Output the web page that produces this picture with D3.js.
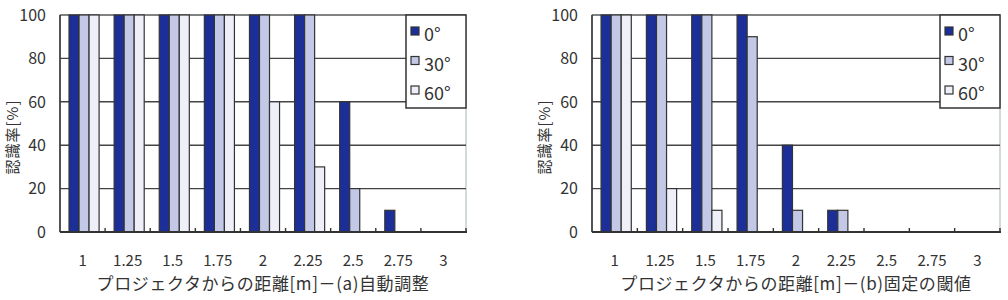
<!DOCTYPE html>
<html>
<head>
<meta charset="utf-8">
<script src="https://cdn.jsdelivr.net/npm/d3@7"></script>
<style>
  body { margin: 0; background: #fff; }
  svg text { font-family: "Noto Sans CJK JP", "Noto Sans", sans-serif; fill: #333; }
</style>
</head>
<body>
<div id="chart"></div>
<script>
const distances = ["1", "1.25", "1.5", "1.75", "2", "2.25", "2.5", "2.75", "3"];
const angles = ["0°", "30°", "60°"];
const yTicks = [0, 20, 40, 60, 80, 100];

// (a) 自動調整
const autoDeg0  = [100, 100, 100, 100, 100, 100, 60, 10, 0];
const autoDeg30 = [100, 100, 100, 100, 100, 100, 20, 0, 0];
const autoDeg60 = [100, 100, 100, 100, 60, 30, 0, 0, 0];

// (b) 固定の閾値
const fixedDeg0  = [100, 100, 100, 100, 40, 10, 0, 0, 0];
const fixedDeg30 = [100, 100, 100, 90, 10, 10, 0, 0, 0];
const fixedDeg60 = [100, 20, 10, 0, 0, 0, 0, 0, 0];

const colors = ["#1c2f98", "#c3c8e6", "#eeeff8"];

const width = 1008;
const height = 300;

const svg = d3.select("#chart")
  .append("svg")
  .attr("width", width)
  .attr("height", height);

function drawChart(left, right, series, title) {
  const top = 15, bottom = 232;

  const x = d3.scaleBand().domain(distances).range([left, right]);
  const x1 = d3.scaleBand().domain(angles).range([0, x.bandwidth()])
    .paddingOuter(0.75).align(0.6);
  const y = d3.scaleLinear().domain([0, 100]).range([bottom, top]);

  const g = svg.append("g");

  // frame (light)
  g.append("rect")
    .attr("x", left).attr("y", top)
    .attr("width", right - left).attr("height", bottom - top)
    .attr("fill", "#fff").attr("stroke", "#a8b4b4").attr("stroke-width", 1);

  // gridlines
  g.append("g")
    .selectAll("line")
    .data(yTicks.slice(1))
    .join("line")
    .attr("x1", left).attr("x2", right)
    .attr("y1", d => y(d)).attr("y2", d => y(d))
    .attr("stroke", d => d === 100 ? "#666" : "#444")
    .attr("stroke-width", 1.4);

  // bars
  const rows = distances.map((d, i) => ({ dist: d, values: series.map(s => s[i]) }));
  g.append("g")
    .selectAll("g")
    .data(rows)
    .join("g")
    .attr("transform", d => `translate(${x(d.dist)},0)`)
    .selectAll("rect")
    .data(d => d.values.map((v, k) => ({ angle: angles[k], v, k })).filter(e => e.v > 0))
    .join("rect")
    .attr("x", d => x1(d.angle))
    .attr("width", x1.bandwidth())
    .attr("y", d => y(d.v))
    .attr("height", d => y(0) - y(d.v))
    .attr("fill", d => colors[d.k])
    .attr("stroke", "#333")
    .attr("stroke-width", 1.2);

  // axes lines
  g.append("line")
    .attr("x1", left).attr("x2", left)
    .attr("y1", top).attr("y2", bottom)
    .attr("stroke", "#333").attr("stroke-width", 1.6);
  g.append("line")
    .attr("x1", left).attr("x2", right + 1)
    .attr("y1", bottom).attr("y2", bottom)
    .attr("stroke", "#333").attr("stroke-width", 1.8);

  // small ticks at band boundaries
  g.append("g")
    .selectAll("line")
    .data(distances.slice(1).concat(["end"]))
    .join("line")
    .attr("x1", d => d === "end" ? right : x(d))
    .attr("x2", d => d === "end" ? right : x(d))
    .attr("y1", bottom).attr("y2", bottom - 4)
    .attr("stroke", "#333").attr("stroke-width", 1.4);

  // y tick labels
  g.append("g")
    .selectAll("text")
    .data(yTicks)
    .join("text")
    .attr("x", left - 14)
    .attr("y", d => y(d))
    .attr("dy", "0.36em")
    .attr("text-anchor", "end")
    .attr("font-size", 16)
    .text(d => d);

  // x tick labels
  g.append("g")
    .selectAll("text")
    .data(distances)
    .join("text")
    .attr("x", d => x(d) + x.bandwidth() / 2)
    .attr("y", 266)
    .attr("text-anchor", "middle")
    .attr("font-size", 15)
    .text(d => d);

  // x title
  g.append("text")
    .attr("x", (left + right) / 2)
    .attr("y", 290)
    .attr("text-anchor", "middle")
    .attr("font-size", 17)
    .attr("letter-spacing", 0.6)
    .text(title);

  // y title
  g.append("text")
    .attr("transform", `translate(${left - 47},${137}) rotate(-90)`)
    .attr("text-anchor", "middle")
    .attr("dy", "0.35em")
    .attr("font-size", 15)
    .attr("letter-spacing", 1)
    .text("認識率[%]");

  // legend
  const lg = g.append("g").attr("transform", `translate(${right - 60},${top})`);
  lg.append("rect")
    .attr("width", 60).attr("height", 93)
    .attr("fill", "#fff").attr("stroke", "#333").attr("stroke-width", 1.5);
  const items = lg.selectAll("g")
    .data(angles)
    .join("g")
    .attr("transform", (d, i) => `translate(5,${12 + i * 29.5})`);
  items.append("rect")
    .attr("width", 8).attr("height", 8)
    .attr("fill", (d, i) => colors[i])
    .attr("stroke", "#333").attr("stroke-width", 1.2);
  items.append("text")
    .attr("x", 13).attr("y", 14)
    .attr("font-size", 18)
    .text(d => d);
}

drawChart(60, 466, [autoDeg0, autoDeg30, autoDeg60], "プロジェクタからの距離[m]－(a)自動調整");
drawChart(592, 1000, [fixedDeg0, fixedDeg30, fixedDeg60], "プロジェクタからの距離[m]－(b)固定の閾値");
</script>
</body>
</html>
